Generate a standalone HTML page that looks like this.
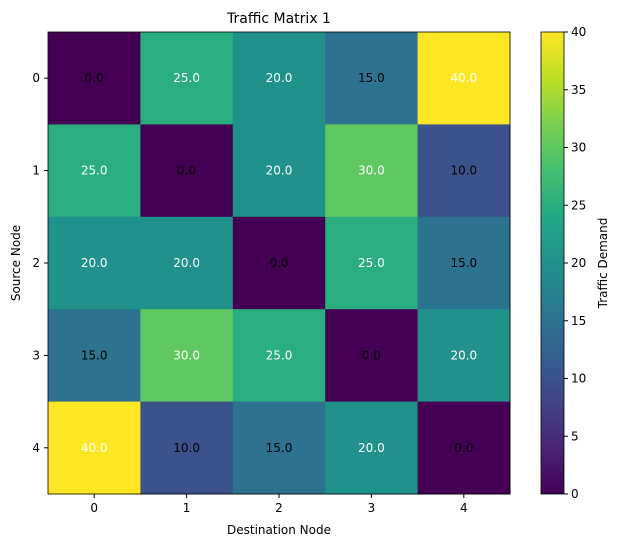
<!DOCTYPE html>
<html><head><meta charset="utf-8"><style>
body{margin:0;background:#fff;font-family:"Liberation Sans","DejaVu Sans",sans-serif;}
svg text{font-family:"DejaVu Sans","Liberation Sans",sans-serif;}
</style></head><body>
<svg id="chart" width="621" height="547" viewBox="0 0 621 547" xmlns="http://www.w3.org/2000/svg">
<defs>
<linearGradient id="vir" x1="0" y1="1" x2="0" y2="0">
<stop offset="0" stop-color="#440154"/><stop offset="0.1" stop-color="#482475"/><stop offset="0.2" stop-color="#414487"/><stop offset="0.3" stop-color="#355f8d"/><stop offset="0.4" stop-color="#2a788e"/><stop offset="0.5" stop-color="#21918c"/><stop offset="0.6" stop-color="#22a884"/><stop offset="0.7" stop-color="#44bf70"/><stop offset="0.8" stop-color="#7ad151"/><stop offset="0.9" stop-color="#bddf26"/><stop offset="1" stop-color="#fde725"/>
</linearGradient>
</defs>
<text x="279" y="23" font-size="14" text-anchor="middle">Traffic Matrix 1</text>
<g id="cells"></g>
<g id="axes"></g>
<rect x="541" y="32" width="23" height="462" fill="url(#vir)" stroke="#000" stroke-width="0.8"/>
<g id="cbticks"></g>
<text x="279" y="534" font-size="12" text-anchor="middle">Destination Node</text>
<text transform="translate(20,263) rotate(-90)" font-size="12" text-anchor="middle">Source Node</text>
<text transform="translate(607,263) rotate(-90)" font-size="12" text-anchor="middle">Traffic Demand</text>
</svg>
<script>
const nodes=[0,1,2,3,4];
const matrix=[[0,25,20,15,40],[25,0,20,30,10],[20,20,0,25,15],[15,30,25,0,20],[40,10,15,20,0]];
const cbTicks=[0,5,10,15,20,25,30,35,40];
const vmin=0,vmax=40;
const L=48,T=32,W=462,H=462,cs=W/nodes.length;
const NS="http://www.w3.org/2000/svg";
const stops=[[68,1,84],[72,36,117],[65,68,135],[53,95,141],[42,120,142],[33,145,140],[34,168,132],[68,191,112],[122,209,81],[189,223,38],[253,231,37]];
function vir(v){let t=Math.max(0,Math.min(1,(v-vmin)/(vmax-vmin)))*10;let i=Math.min(9,Math.floor(t)),f=t-i;const a=stops[i],b=stops[i+1];return `rgb(${a.map((c,k)=>Math.round(c+(b[k]-c)*f)).join(',')})`;}
function mk(tag,attrs,parent){const e=document.createElementNS(NS,tag);for(const k in attrs)e.setAttribute(k,attrs[k]);parent.appendChild(e);return e;}
const xs=i=>L+i*cs, ys=i=>T+i*cs;
const cells=document.getElementById('cells');
matrix.forEach((row,r)=>row.forEach((v,c)=>{
 const rc=mk('rect',{x:xs(c),y:ys(r),width:cs+0.5,height:cs+0.5,fill:vir(v)},cells);
 
 
 const t=mk('text',{x:xs(c)+cs/2,y:ys(r)+cs/2+4,'font-size':12,'text-anchor':'middle',fill:v>=20?'#fff':'#000'},cells);
 t.textContent=v.toFixed(1);
 
 
}));
const ax=document.getElementById('axes');
mk('rect',{x:L,y:T,width:W,height:H,fill:'none',stroke:'#000','stroke-width':0.8},ax);
nodes.forEach((n,i)=>{
 const cx=xs(i)+cs/2, cy=ys(i)+cs/2;
 mk('line',{x1:cx,x2:cx,y1:T+H,y2:T+H+4,stroke:'#000'},ax);
 const tx=mk('text',{x:cx,y:T+H+18,'font-size':12,'text-anchor':'middle'},ax);tx.textContent=n;
 
 
 mk('line',{x1:L-4,x2:L,y1:cy,y2:cy,stroke:'#000'},ax);
 const ty=mk('text',{x:L-8,y:cy+4,'font-size':12,'text-anchor':'end'},ax);ty.textContent=n;
 
 
});
const cb=document.getElementById('cbticks');
cbTicks.forEach(v=>{
 const y=T+H-(v-vmin)/(vmax-vmin)*H;
 mk('line',{x1:564,x2:568,y1:y,y2:y,stroke:'#000'},cb);
 const t=mk('text',{x:571,y:y+4,'font-size':12},cb);t.textContent=v;
 
 
});
</script>
</body></html>
